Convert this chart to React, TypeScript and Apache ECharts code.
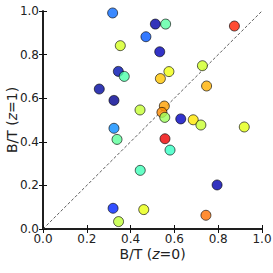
import React, { useEffect, useRef } from "react";
import * as echarts from "echarts";

const btZ0 = [
  0.318, 0.353, 0.344, 0.371, 0.257, 0.324, 0.324, 0.443, 0.513, 0.56, 0.874,
  0.47, 0.533, 0.728, 0.575, 0.536, 0.747, 0.554, 0.543, 0.556, 0.629, 0.686,
  0.721, 0.919, 0.557, 0.338, 0.444, 0.58, 0.32, 0.345, 0.795, 0.46, 0.744,
];
const btZ1 = [
  0.991, 0.841, 0.723, 0.7, 0.642, 0.59, 0.462, 0.546, 0.94, 0.94, 0.931,
  0.882, 0.813, 0.749, 0.722, 0.69, 0.656, 0.564, 0.535, 0.512, 0.505, 0.501,
  0.477, 0.468, 0.414, 0.411, 0.269, 0.362, 0.095, 0.034, 0.202, 0.089, 0.063,
];
const pointColors = [
  "#0a6cff", "#d4ff22", "#0010b0", "#4dffaa", "#0008a0", "#000090", "#0a8cff",
  "#c4ff33", "#0000a8", "#5affa4", "#ff2000", "#0058ff", "#0000b8", "#d0ff26",
  "#f0ff10", "#ffc400", "#ffb000", "#ffa000", "#ff8c00", "#9cff5a", "#0000c0",
  "#ffe600", "#c8ff2f", "#e4ff13", "#ee0000", "#5cff9a", "#40ffb8", "#36ffc4",
  "#0024ff", "#c0ff36", "#0000b0", "#e8ff10", "#ff7000",
];
const diagonal = [
  [0, 0],
  [1, 1],
];
const xName = "B/T ({i|z}=0)";
const yName = "B/T ({i|z}=1)";

const FONT = "DejaVu Sans";

export default function App() {
  const ref = useRef<HTMLDivElement>(null);
  useEffect(() => {
    if (!ref.current) return;
    const chart = echarts.init(ref.current, undefined, { renderer: "svg" });
    const axisLine = { show: true, lineStyle: { color: "#111", width: 1.5 } };
    const tick = { show: true, inside: true, length: 4, lineStyle: { color: "#111", width: 1 } };
    const nameStyle = {
      fontFamily: FONT,
      fontSize: 14,
      fontWeight: "normal",
      color: "#222",
      rich: {
        i: { fontFamily: FONT, fontSize: 14, fontWeight: "normal", fontStyle: "italic", color: "#222" },
      },
    };
    const base = {
      type: "value",
      min: 0,
      max: 1,
      interval: 0.2,
      splitLine: { show: false },
      axisLine,
      axisTick: tick,
    };
    chart.setOption({
      animation: false,
      grid: {
        left: 43,
        top: 11,
        width: 219,
        height: 218,
        containLabel: false,
        outerBoundsMode: "none",
      },
      xAxis: [
        {
          ...base,
          position: "bottom",
          name: xName,
          nameLocation: "middle",
          nameGap: 18,
          nameMoveOverlap: false,
          nameTextStyle: nameStyle,
          axisLabel: {
            fontFamily: FONT,
            fontSize: 12,
            color: "#222",
            margin: 4,
            formatter: (v: number) => v.toFixed(1),
          },
        },
        { ...base, position: "top", axisLabel: { show: false } },
      ],
      yAxis: [
        {
          ...base,
          position: "left",
          name: yName,
          nameLocation: "middle",
          nameGap: 24,
          nameMoveOverlap: false,
          nameTextStyle: nameStyle,
          axisLabel: {
            fontFamily: FONT,
            fontSize: 12,
            color: "#222",
            margin: 4,
            formatter: (v: number) => v.toFixed(1),
          },
        },
        { ...base, position: "right", axisLabel: { show: false } },
      ],
      series: [
        {
          type: "line",
          data: diagonal,
          symbol: "none",
          silent: true,
          lineStyle: { color: "#333", width: 0.8, type: [3, 2] },
          z: 1,
        },
        {
          type: "scatter",
          symbol: "circle",
          symbolSize: 10,
          data: btZ0.map((x, i) => ({
            value: [x, btZ1[i]],
            itemStyle: { color: pointColors[i], borderColor: "#000", borderWidth: 0.8 },
          })),
          z: 2,
        },
      ],
    });
    return () => chart.dispose();
  }, []);
  return (
    <div
      ref={ref}
      style={{ position: "fixed", left: 0, top: 0, width: 273, height: 273, background: "#fff" }}
    />
  );
}
